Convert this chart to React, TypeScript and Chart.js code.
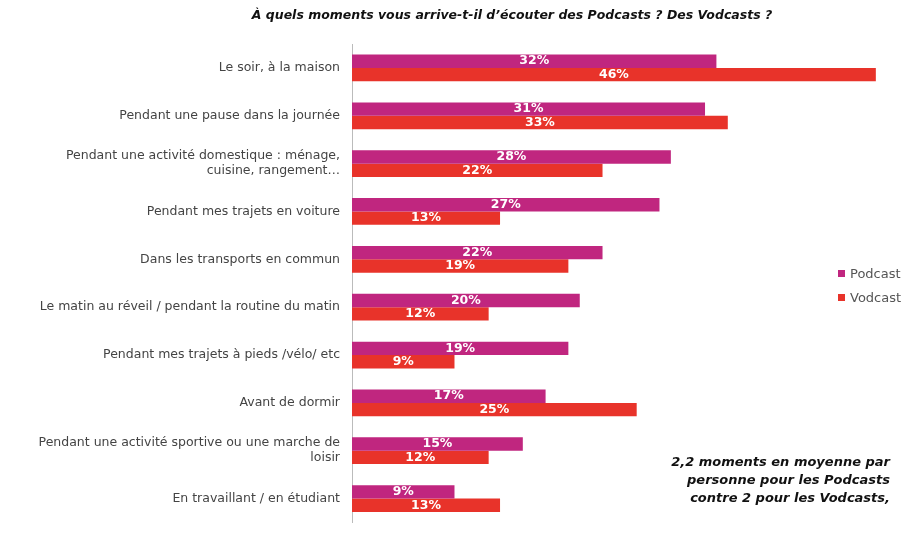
import React, { useEffect, useRef } from "react";
import { Chart, registerables } from "chart.js";
Chart.register(...registerables);

const categories: (string | string[])[] = [
  "Le soir, à la maison",
  "Pendant une pause dans la journée",
  ["Pendant une activité domestique : ménage,", "cuisine, rangement…"],
  "Pendant mes trajets en voiture",
  "Dans les transports en commun",
  "Le matin au réveil / pendant la routine du matin",
  "Pendant mes trajets à pieds /vélo/ etc",
  "Avant de dormir",
  ["Pendant une activité sportive ou une marche de", "loisir"],
  "En travaillant / en étudiant",
];
const podcast = [32, 31, 28, 27, 22, 20, 19, 17, 15, 9];
const vodcast = [46, 33, 22, 13, 19, 12, 9, 25, 12, 13];
const PINK = "#C0267F";
const RED = "#E8332A";

const labelPlugin = {
  id: "barLabels",
  afterDatasetsDraw(chart: any) {
    const ctx = chart.ctx;
    ctx.save();
    ctx.fillStyle = "#fff";
    ctx.font = "bold 12.5px 'DejaVu Sans'";
    ctx.textAlign = "center";
    ctx.textBaseline = "middle";
    chart.data.datasets.forEach((ds: any, i: number) => {
      chart.getDatasetMeta(i).data.forEach((bar: any, j: number) => {
        const x = (bar.base + bar.x) / 2;
        ctx.fillText(ds.data[j] + "%", x, bar.y);
      });
    });
    ctx.restore();
  },
};

export default function App() {
  const ref = useRef<HTMLCanvasElement>(null);
  useEffect(() => {
    document.body.style.margin = "0";
    const chart = new Chart(ref.current!, {
      type: "bar",
      data: {
        labels: categories,
        datasets: [
          { label: "Podcast", data: podcast, backgroundColor: PINK },
          { label: "Vodcast", data: vodcast, backgroundColor: RED },
        ],
      },
      options: {
        indexAxis: "y",
        animation: false,
        responsive: false,
        datasets: { bar: { categoryPercentage: 0.56, barPercentage: 1 } },
        layout: { padding: { top: 44, bottom: 2, right: 10 } },
        plugins: { legend: { display: false }, tooltip: { enabled: false } },
        scales: {
          x: { min: 0, max: 49, display: false },
          y: {
            grid: { display: false, drawTicks: false },
            border: { color: "#bbb" },
            ticks: { color: "#444", font: { family: "DejaVu Sans", size: 12.5 }, padding: 12 },
            afterFit: (s: any) => { s.width = 352; },
          },
        },
      },
      plugins: [labelPlugin],
    });
    return () => chart.destroy();
  }, []);
  const ff = "'DejaVu Sans', sans-serif";
  return (
    <div style={{ position: "relative", width: 920, height: 542, fontFamily: ff }}>
      <canvas ref={ref} width={920} height={542} />
      <div style={{ position: "absolute", top: 7, left: 0, width: 1024, textAlign: "center", fontWeight: "bold", fontStyle: "italic", fontSize: 12.5, color: "#111" }}>
        À quels moments vous arrive-t-il d’écouter des Podcasts ? Des Vodcasts ?
      </div>
      {[["Podcast", PINK, 266], ["Vodcast", RED, 290]].map(([t, c, y]) => (
        <div key={t as string} style={{ position: "absolute", left: 838, top: y as number, fontSize: 13, color: "#555", display: "flex", alignItems: "center" }}>
          <span style={{ width: 7, height: 7, background: c as string, marginRight: 5, display: "inline-block" }} />
          {t}
        </div>
      ))}
      <div style={{ position: "absolute", right: 30, top: 453, textAlign: "right", fontWeight: "bold", fontStyle: "italic", fontSize: 13, lineHeight: "18px", color: "#111" }}>
        2,2 moments en moyenne par<br />personne pour les Podcasts<br />contre 2 pour les Vodcasts,
      </div>
    </div>
  );
}
